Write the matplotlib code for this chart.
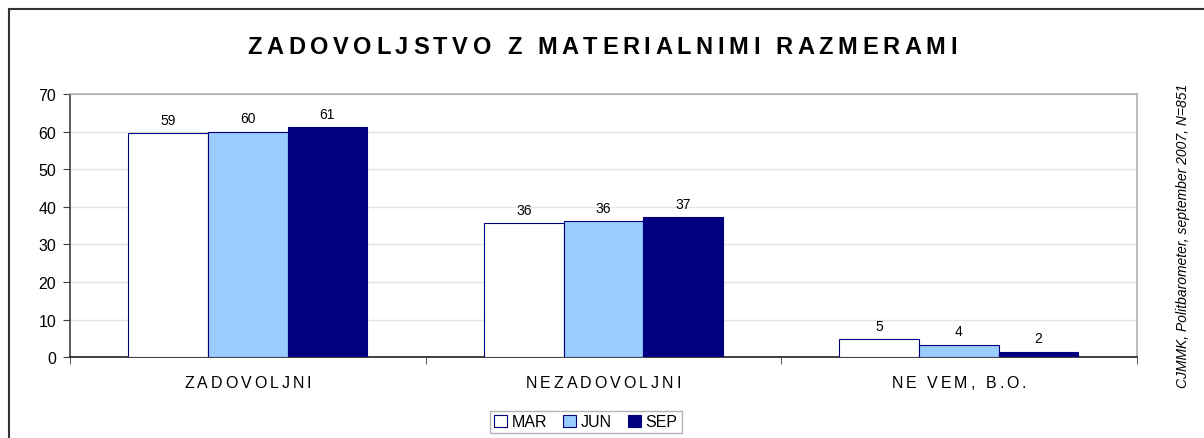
import matplotlib.pyplot as plt
import matplotlib.patches as mpatches
from matplotlib.font_manager import FontProperties
import numpy as np

plt.rcParams['font.family'] = ['Liberation Sans', 'DejaVu Sans']

# Data
categories = ['ZADOVOLJNI', 'NEZADOVOLJNI', 'NE VEM, B.O.']
series = ['MAR', 'JUN', 'SEP']
mar = [59.6, 35.7, 4.8]
jun = [60.0, 36.3, 3.4]
sep = [61.3, 37.2, 1.5]
mar_labels = ['59', '36', '5']
jun_labels = ['60', '36', '4']
sep_labels = ['61', '37', '2']
colors = ['#FFFFFF', '#99CCFF', '#000080']

DPI = 100
fig = plt.figure(figsize=(12.04, 4.39), dpi=DPI)
ax = fig.add_axes([70 / 1204, 1 - 358.3 / 439, 1066.7 / 1204, 263.3 / 439])
renderer = fig.canvas.get_renderer()


def spaced(s, xy, xycoords, size, track, weight='normal', dy=0):
    # draw text letter by letter with extra spacing (px) between letters
    fp = FontProperties(family='Liberation Sans', size=size, weight=weight)
    ws = [renderer.get_text_width_height_descent(c, fp, ismath=False)[0] for c in s]
    total = sum(ws) + track * (len(s) - 1)
    xpos = -total / 2
    for c, wpx in zip(s, ws):
        ax.annotate(c, xy, xycoords=xycoords,
                    xytext=((xpos + wpx / 2) * 72 / DPI, dy * 72 / DPI),
                    textcoords='offset points', ha='center', va='center',
                    fontproperties=fp, annotation_clip=False)
        xpos += wpx + track


# Outer frame around the chart (clipped at right/bottom like the original)
frame = mpatches.Rectangle((9 / 1204, -0.05), 1.1, 1 - 10 / 439 + 0.05,
                           transform=fig.transFigure, fill=False,
                           edgecolor='#333333', linewidth=1.5, clip_on=False)
fig.patches.append(frame)

x = np.arange(len(categories))
w = 0.224
for i, (vals, labs) in enumerate(zip([mar, jun, sep], [mar_labels, jun_labels, sep_labels])):
    bars = ax.bar(x + (i - 1) * w, vals, w, color=colors[i], edgecolor='#000080',
                  linewidth=0.8, label=series[i], zorder=3)
    for b, lab in zip(bars, labs):
        ax.annotate(lab, (b.get_x() + b.get_width() / 2, b.get_height()),
                    xytext=(0, 9.5), textcoords='offset points',
                    ha='center', va='center', fontsize=10)

ax.set_xlim(-0.5, 2.5)
ax.set_ylim(0, 70)
ax.set_yticks(range(0, 71, 10))
ax.set_xticks(x)
ax.set_xticklabels([])
ax.set_xticks([-0.5, 0.5, 1.5, 2.5], minor=True)
ax.tick_params(axis='x', which='major', length=0)
ax.tick_params(axis='x', which='minor', length=5, direction='out', color='#404040')
ax.tick_params(axis='y', length=5, direction='out', labelsize=11.5, color='#404040', pad=5)
ax.grid(axis='y', color='#E3E3E3', linewidth=1, zorder=0)

ax.spines['left'].set_color('#404040')
ax.spines['bottom'].set_color('#202020')
ax.spines['top'].set_color('#B0B0B0')
ax.spines['right'].set_color('#B0B0B0')
for s in ax.spines.values():
    s.set_linewidth(1.2)

# category labels with wide letter spacing
for xi, cat in zip(x, categories):
    spaced(cat, (xi, 0), ('data', 'axes fraction'), 11.5, 3.0, dy=-25)

# title
spaced('ZADOVOLJSTVO Z MATERIALNIMI RAZMERAMI', (0.5, 1 - 47 / 439),
       'figure fraction', 17, 4.6, weight='bold')

fig.text(1183 / 1204, 1 - 236 / 439, 'CJMMK, Politbarometer, september 2007, N=851',
         rotation=90, ha='center', va='center', fontsize=10, style='italic')

leg = fig.legend(loc='center', bbox_to_anchor=(586 / 1204, 1 - 423 / 439), ncol=3,
                 fontsize=11.5, frameon=True, fancybox=False, edgecolor='#A0A0A0',
                 handlelength=0.8, handleheight=0.8, handletextpad=0.3,
                 columnspacing=1.0, borderpad=0.25, borderaxespad=0)
leg.get_frame().set_linewidth(1)

fig.savefig('out.png', dpi=DPI)
